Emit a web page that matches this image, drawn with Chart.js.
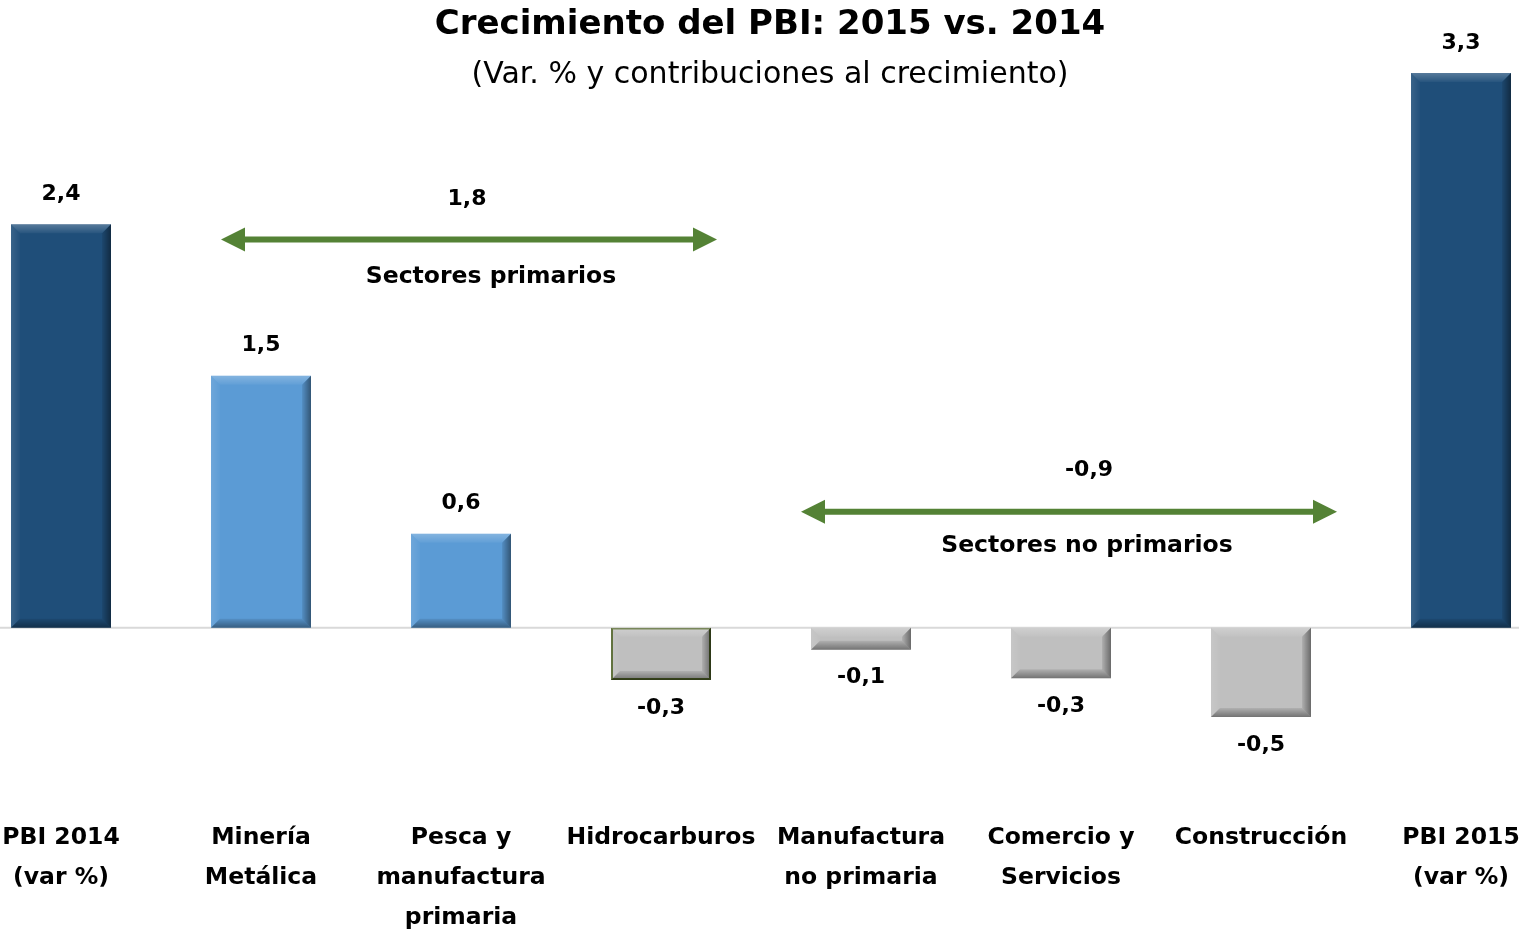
<!DOCTYPE html>
<html>
<head>
<meta charset="utf-8">
<script src="https://cdn.jsdelivr.net/npm/chart.js@4.4.1/dist/chart.umd.min.js"></script>
<style>
  html, body { margin: 0; padding: 0; background: #fff; overflow: hidden; }
  #wrap { position: absolute; left: -39px; top: 0; width: 1600px; height: 930px; }
</style>
</head>
<body>
<div id="wrap"><canvas id="chart"></canvas></div>
<script>
// Categories and values
const categories = [
  ['PBI 2014', '(var %)'],
  ['Minería', 'Metálica'],
  ['Pesca y', 'manufactura', 'primaria'],
  ['Hidrocarburos'],
  ['Manufactura', 'no primaria'],
  ['Comercio y', 'Servicios'],
  ['Construcción'],
  ['PBI 2015', '(var %)']
]
const values = [2.4, 1.5, 0.56, -0.31, -0.13, -0.30, -0.53, 3.3]
const groupNames = ['Sectores primarios', 'Sectores no primarios']
const groupValues = [1.8, -0.9]

const titleText = 'Crecimiento del PBI: 2015 vs. 2014'
const subtitleText = '(Var. % y contribuciones al crecimiento)'

// Styling
const navy = '#1f4e79'
const lightBlue = '#5b9bd5'
const gray = '#bfbfbf'
const green = '#548235'
const barColors = values.map((v, i) => {
  if (i === 0 || i === values.length - 1) return navy
  return v >= 0 ? lightBlue : gray
})
const barBorders = values.map((v, i) => i === 3 ? '#4f6228' : 'rgba(0,0,0,0)')
const barBorderWidths = values.map((v, i) => i === 3 ? 2 : 0)

// Arrow placement in data units (category index / value)
const brackets = [
  { from: 0.8, to: 3.28, y: 2.31, valueX: 2.03, valueY: 2.55, textX: 2.15, textY: 2.09 },
  { from: 3.7, to: 6.38, y: 0.69, valueX: 5.14, valueY: 0.94, textX: 5.13, textY: 0.49 }
]

const fontFamily = '"DejaVu Sans", Verdana, sans-serif'

function fmt(v) {
  return v.toFixed(1).replace('.', ',')
}

// Bevel look for the bars
function drawBevel(ctx, l, t, r, b, s) {
  ctx.save()
  // top
  let g = ctx.createLinearGradient(0, t, 0, t + s)
  g.addColorStop(0, 'rgba(255,255,255,0.25)')
  g.addColorStop(1, 'rgba(255,255,255,0.04)')
  ctx.fillStyle = g
  ctx.beginPath()
  ctx.moveTo(l, t); ctx.lineTo(r, t); ctx.lineTo(r - s, t + s); ctx.lineTo(l + s, t + s)
  ctx.closePath(); ctx.fill()
  // left
  g = ctx.createLinearGradient(l, 0, l + s, 0)
  g.addColorStop(0, 'rgba(255,255,255,0.12)')
  g.addColorStop(1, 'rgba(255,255,255,0.02)')
  ctx.fillStyle = g
  ctx.beginPath()
  ctx.moveTo(l, t); ctx.lineTo(l + s, t + s); ctx.lineTo(l + s, b - s); ctx.lineTo(l, b)
  ctx.closePath(); ctx.fill()
  // right
  g = ctx.createLinearGradient(r - s, 0, r, 0)
  g.addColorStop(0, 'rgba(0,0,0,0.08)')
  g.addColorStop(1, 'rgba(0,0,0,0.45)')
  ctx.fillStyle = g
  ctx.beginPath()
  ctx.moveTo(r, t); ctx.lineTo(r, b); ctx.lineTo(r - s, b - s); ctx.lineTo(r - s, t + s)
  ctx.closePath(); ctx.fill()
  // bottom
  g = ctx.createLinearGradient(0, b - s, 0, b)
  g.addColorStop(0, 'rgba(0,0,0,0.08)')
  g.addColorStop(1, 'rgba(0,0,0,0.4)')
  ctx.fillStyle = g
  ctx.beginPath()
  ctx.moveTo(l, b); ctx.lineTo(r, b); ctx.lineTo(r - s, b - s); ctx.lineTo(l + s, b - s)
  ctx.closePath(); ctx.fill()
  ctx.restore()
}

function drawArrow(ctx, x1, x2, y) {
  const head = 24, half = 12
  ctx.save()
  ctx.strokeStyle = green
  ctx.fillStyle = green
  ctx.lineWidth = 6
  ctx.beginPath()
  ctx.moveTo(x1 + head - 2, y)
  ctx.lineTo(x2 - head + 2, y)
  ctx.stroke()
  ctx.beginPath()
  ctx.moveTo(x1, y); ctx.lineTo(x1 + head, y - half); ctx.lineTo(x1 + head, y + half)
  ctx.closePath(); ctx.fill()
  ctx.beginPath()
  ctx.moveTo(x2, y); ctx.lineTo(x2 - head, y - half); ctx.lineTo(x2 - head, y + half)
  ctx.closePath(); ctx.fill()
  ctx.restore()
}

const zeroLinePlugin = {
  id: 'zeroLine',
  beforeDatasetsDraw(chart) {
    const { ctx, scales } = chart
    const y0 = scales.y.getPixelForValue(0)
    ctx.save()
    ctx.strokeStyle = '#d9d9d9'
    ctx.lineWidth = 2
    ctx.beginPath()
    ctx.moveTo(0, y0)
    ctx.lineTo(chart.width, y0)
    ctx.stroke()
    ctx.restore()
  }
}

const decorPlugin = {
  id: 'decor',
  afterDatasetsDraw(chart) {
    const { ctx, scales } = chart
    const meta = chart.getDatasetMeta(0)

    meta.data.forEach((bar, i) => {
      const p = bar.getProps(['x', 'y', 'base', 'width'], true)
      const l = p.x - p.width / 2, r = p.x + p.width / 2
      const t = Math.min(p.y, p.base), b = Math.max(p.y, p.base)
      drawBevel(ctx, l, t, r, b, Math.min(9, (b - t) / 2))

      // value labels
      ctx.save()
      ctx.font = 'bold 22px ' + fontFamily
      ctx.fillStyle = '#000'
      ctx.textAlign = 'center'
      ctx.textBaseline = 'middle'
      const v = values[i]
      const ly = v >= 0 ? t - 30 : b + 28
      ctx.fillText(fmt(v), p.x, ly)
      ctx.restore()
    })

    // group arrows
    brackets.forEach((br, i) => {
      const x1 = scales.x.getPixelForValue(br.from)
      const x2 = scales.x.getPixelForValue(br.to)
      const y = scales.y.getPixelForValue(br.y)
      drawArrow(ctx, x1, x2, y)
      ctx.save()
      ctx.fillStyle = '#000'
      ctx.textAlign = 'center'
      ctx.textBaseline = 'middle'
      ctx.font = 'bold 22px ' + fontFamily
      ctx.fillText(fmt(groupValues[i]), scales.x.getPixelForValue(br.valueX), scales.y.getPixelForValue(br.valueY))
      ctx.font = 'bold 23.5px ' + fontFamily
      ctx.fillText(groupNames[i], scales.x.getPixelForValue(br.textX), scales.y.getPixelForValue(br.textY))
      ctx.restore()
    })
  },
  afterDraw(chart) {
    const ctx = chart.ctx
    const cx = chart.width / 2 + 9
    ctx.save()
    ctx.fillStyle = '#000'
    ctx.textAlign = 'center'
    ctx.textBaseline = 'middle'
    ctx.font = 'bold 34px ' + fontFamily
    ctx.fillText(titleText, cx, 25)
    ctx.font = '30px ' + fontFamily
    ctx.fillText(subtitleText, cx, 75)
    ctx.restore()
  }
}

const ctx = document.getElementById('chart').getContext('2d')
new Chart(ctx, {
  type: 'bar',
  data: {
    labels: categories,
    datasets: [{
      data: values,
      backgroundColor: barColors,
      borderColor: barBorders,
      borderWidth: barBorderWidths,
      borderSkipped: false,
      categoryPercentage: 1,
      barPercentage: 0.5
    }]
  },
  options: {
    responsive: true,
    maintainAspectRatio: false,
    animation: false,
    layout: {
      padding: { top: 73, left: 0, right: 0, bottom: 0 }
    },
    plugins: {
      legend: { display: false },
      tooltip: { enabled: false }
    },
    scales: {
      y: {
        display: false,
        min: -1.0,
        max: 3.3
      },
      x: {
        afterFit(scale) {
          scale.height = 134
        },
        grid: { display: false, drawTicks: false },
        border: { display: false },
        ticks: {
          color: '#000',
          padding: 22,
          autoSkip: false,
          maxRotation: 0,
          font: { family: fontFamily, weight: 'bold', size: 23.5, lineHeight: 40 / 23.5 }
        }
      }
    }
  },
  plugins: [zeroLinePlugin, decorPlugin]
})
</script>
</body>
</html>
